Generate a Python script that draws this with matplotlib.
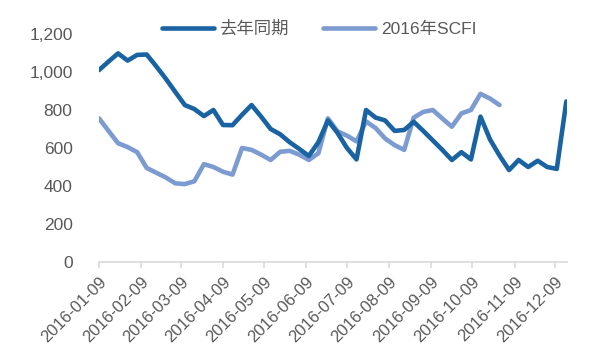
import matplotlib
matplotlib.use("Agg")
import matplotlib.pyplot as plt
import numpy as np
import pandas as pd

plt.rcParams['font.family'] = ['Liberation Sans', 'Noto Sans CJK SC', 'DejaVu Sans']

dates = pd.date_range("2016-01-09", periods=50, freq="7D")
last_year = [1010, 1055, 1098, 1060, 1090, 1092, 1030, 965, 895, 826,
             805, 768, 800, 721, 720, 775, 826, 765, 700, 672,
             630, 595, 558, 630, 745, 680, 600, 540, 800, 760,
             745, 690, 695, 738, 690, 640, 590, 537, 578, 540,
             765, 645, 560, 484, 537, 500, 533, 500, 490, 845]
scfi_2016 = [756, 690, 625, 605, 578, 495, 470, 445, 414, 410,
             425, 515, 500, 475, 460, 600, 590, 565, 537, 580,
             585, 565, 537, 572, 756, 688, 665, 635, 740, 705,
             650, 615, 590, 760, 790, 800, 755, 712, 782, 800,
             885, 860, 826]
labels = ["去年同期", "2016年SCFI"]
tick_labels = ["2016-01-09", "2016-02-09", "2016-03-09", "2016-04-09", "2016-05-09",
               "2016-06-09", "2016-07-09", "2016-08-09", "2016-09-09", "2016-10-09",
               "2016-11-09", "2016-12-09"]
yticks = [0, 200, 400, 600, 800, 1000, 1200]

fig = plt.figure(figsize=(5.97, 3.51), dpi=100)
ax = fig.add_axes([99/597, 1-262/351, (567-99)/597, (262-34)/351])

ax.plot(dates, last_year, color="#1A63A2", lw=3.3, solid_joinstyle="round",
        solid_capstyle="round", label=labels[0], zorder=3)
ax.plot(dates[:len(scfi_2016)], scfi_2016, color="#7C9BD0", lw=3.3,
        solid_joinstyle="round", solid_capstyle="round", label=labels[1], zorder=2)

tick_dates = pd.to_datetime(tick_labels)
ax.set_ylim(0, 1200)
ax.set_xlim(dates[0], dates[-1] + pd.Timedelta(days=0.5))
ax.set_yticks(yticks)
ax.set_yticklabels([f"{v:,}" for v in yticks])
ax.set_xticks(tick_dates)
ax.set_xticklabels(tick_labels, rotation=45, ha="right", rotation_mode="anchor")

for s in ["top", "right", "left"]:
    ax.spines[s].set_visible(False)
ax.spines["bottom"].set_color("#D9D9D9")
ax.spines["bottom"].set_linewidth(1.2)
ax.tick_params(axis="y", length=0, labelsize=12.5, colors="#595959", pad=19)
ax.tick_params(axis="x", length=4, color="#D9D9D9", width=1.2, labelsize=12,
               labelcolor="#595959", pad=5)

leg = fig.legend(loc="center", bbox_to_anchor=(319/597, 1-29/351), ncol=2, frameon=False,
                 fontsize=12.5, handlelength=3.0, columnspacing=2.0, handletextpad=0.3)
for t in leg.get_texts():
    t.set_color("#595959")

fig.savefig("out.png", dpi=100)
